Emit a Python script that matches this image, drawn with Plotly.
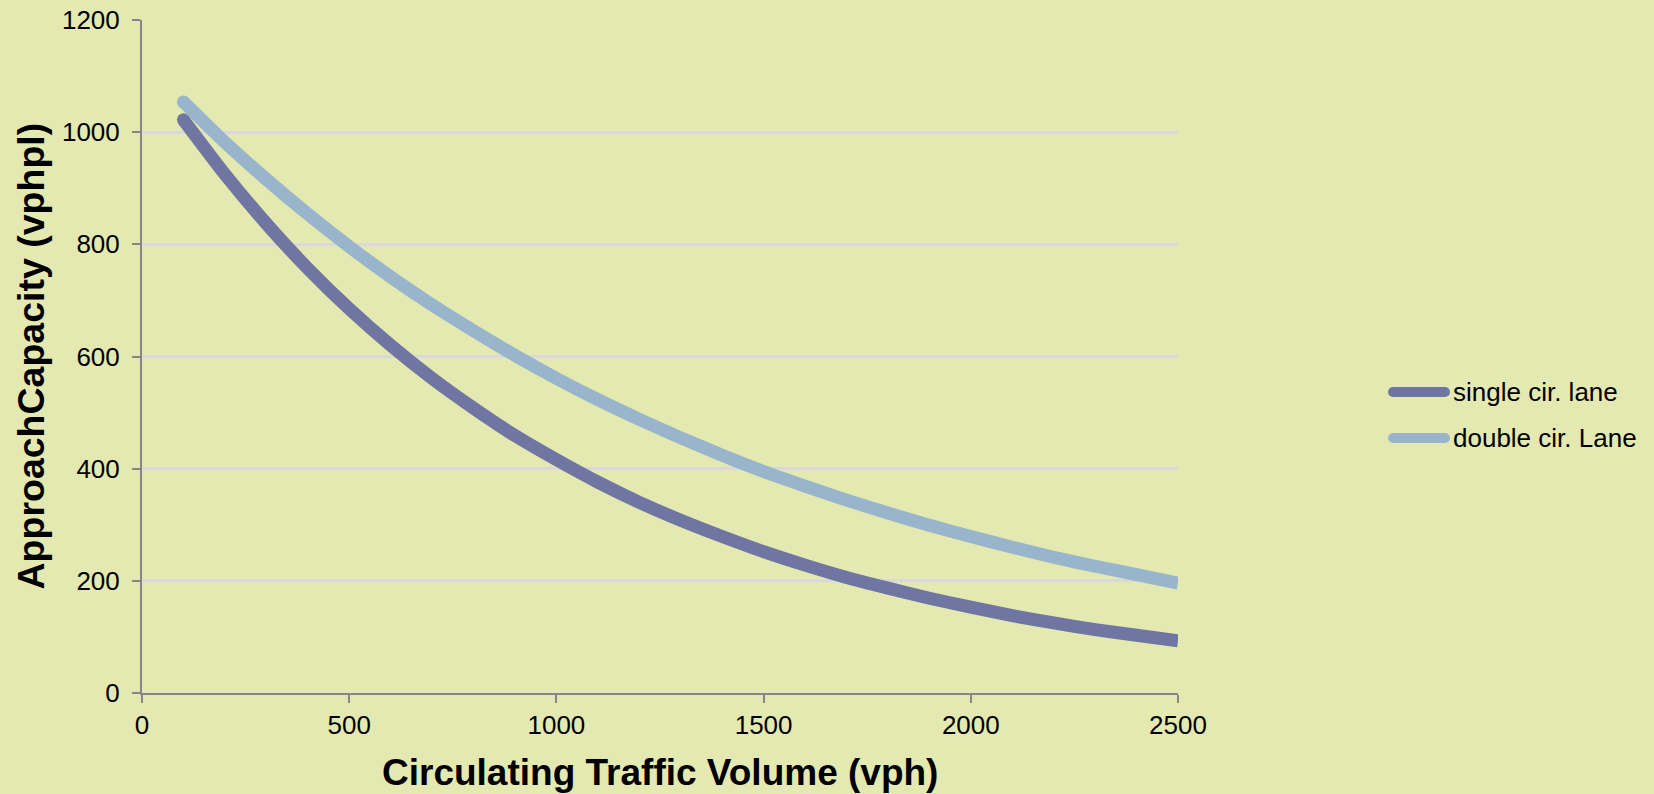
import plotly.graph_objects as go

# Circulating traffic volume (vph)
circulating_vph = [100, 200, 300, 400, 500, 600, 700, 800, 900, 1000, 1100, 1200, 1300,
                   1400, 1500, 1600, 1700, 1800, 1900, 2000, 2100, 2200, 2300, 2400, 2500]

# Approach capacity (vphpl)
single_lane = [1022, 925, 837, 757, 685, 620, 561, 508, 459, 416, 376, 340, 308,
               279, 252, 228, 206, 187, 169, 153, 138, 125, 113, 103, 93]
double_lane = [1054, 982, 916, 854, 796, 742, 692, 646, 602, 561, 523, 488, 455,
               424, 395, 369, 344, 321, 299, 279, 260, 242, 226, 211, 196]

series_names = ["single cir. lane", "double cir. Lane"]
series_colors = ["#6E76A1", "#98B5CC"]

x_ticks = [0, 500, 1000, 1500, 2000, 2500]
y_ticks = [0, 200, 400, 600, 800, 1000, 1200]

BG = "#E3E9B1"
FONT = "Liberation Sans, Arial, sans-serif"
LINE_W = 13

fig = go.Figure()
for name, vals, col in zip(series_names, [single_lane, double_lane], series_colors):
    fig.add_trace(go.Scatter(
        x=circulating_vph, y=vals, mode="lines", name=name,
        line=dict(color=col, width=LINE_W, shape="spline", smoothing=0.6),
        showlegend=False,
    ))
    # rounded start of the line
    fig.add_trace(go.Scatter(
        x=circulating_vph[:1], y=vals[:1], mode="markers",
        marker=dict(color=col, size=LINE_W, line=dict(width=0)),
        showlegend=False, hoverinfo="skip",
    ))

# Legend drawn as line samples plus labels to the right of the plot
legend_y = [392, 438]
L, R, T, B = 142, 476, 20, 101
W, H = 1654 - L - R, 794 - T - B
shapes = []
annotations = []
for name, col, py in zip(series_names, series_colors, legend_y):
    yp = (794 - B - py) / H
    shapes.append(dict(type="line", xref="paper", yref="paper",
                       x0=(1393 - L) / W, x1=(1445 - L) / W, y0=yp, y1=yp,
                       line=dict(color=col, width=10)))
    for px in (1393, 1445):
        shapes.append(dict(type="circle", xref="paper", yref="paper",
                           x0=(px - 5 - L) / W, x1=(px + 5 - L) / W,
                           y0=yp - 5 / H, y1=yp + 5 / H,
                           fillcolor=col, line=dict(width=0)))
    annotations.append(dict(xref="paper", yref="paper", x=(1451 - L) / W, y=yp,
                            xanchor="left", yanchor="middle", showarrow=False,
                            text=name, font=dict(family=FONT, size=26, color="#000000")))

annotations.append(dict(xref="paper", yref="paper", x=0.5, y=(794 - B - 772) / H,
                        xanchor="center", yanchor="middle", showarrow=False,
                        text="<b>Circulating Traffic Volume (vph)</b>",
                        font=dict(family=FONT, size=37, color="#000000")))
annotations.append(dict(xref="paper", yref="paper", x=(30 - L) / W, y=0.5,
                        xanchor="center", yanchor="middle", showarrow=False, textangle=-90,
                        text="<b>ApproachCapacity (vphpl)</b>",
                        font=dict(family=FONT, size=37.5, color="#000000")))

fig.update_layout(
    width=1654, height=794,
    margin=dict(l=L, r=R, t=T, b=B, autoexpand=False),
    paper_bgcolor=BG, plot_bgcolor=BG,
    font=dict(family=FONT, size=26, color="#000000"),
    shapes=shapes, annotations=annotations,
    xaxis=dict(range=[0, 2500], tickvals=x_ticks, showgrid=False, zeroline=False,
               automargin=False,
               showline=True, linecolor="#868686", linewidth=2,
               ticks="outside", ticklen=8, tickwidth=2, tickcolor="#868686",
               tickfont=dict(size=26)),
    yaxis=dict(range=[0, 1200], tickvals=y_ticks, showgrid=True, gridcolor="#D9D9D9",
               gridwidth=2.5, zeroline=False, automargin=False,
               showline=True, linecolor="#868686", linewidth=2,
               ticks="outside", ticklen=8, tickwidth=2, tickcolor="#868686",
               ticklabelstandoff=7, tickfont=dict(size=26)),
)

fig.write_html("out.html")
